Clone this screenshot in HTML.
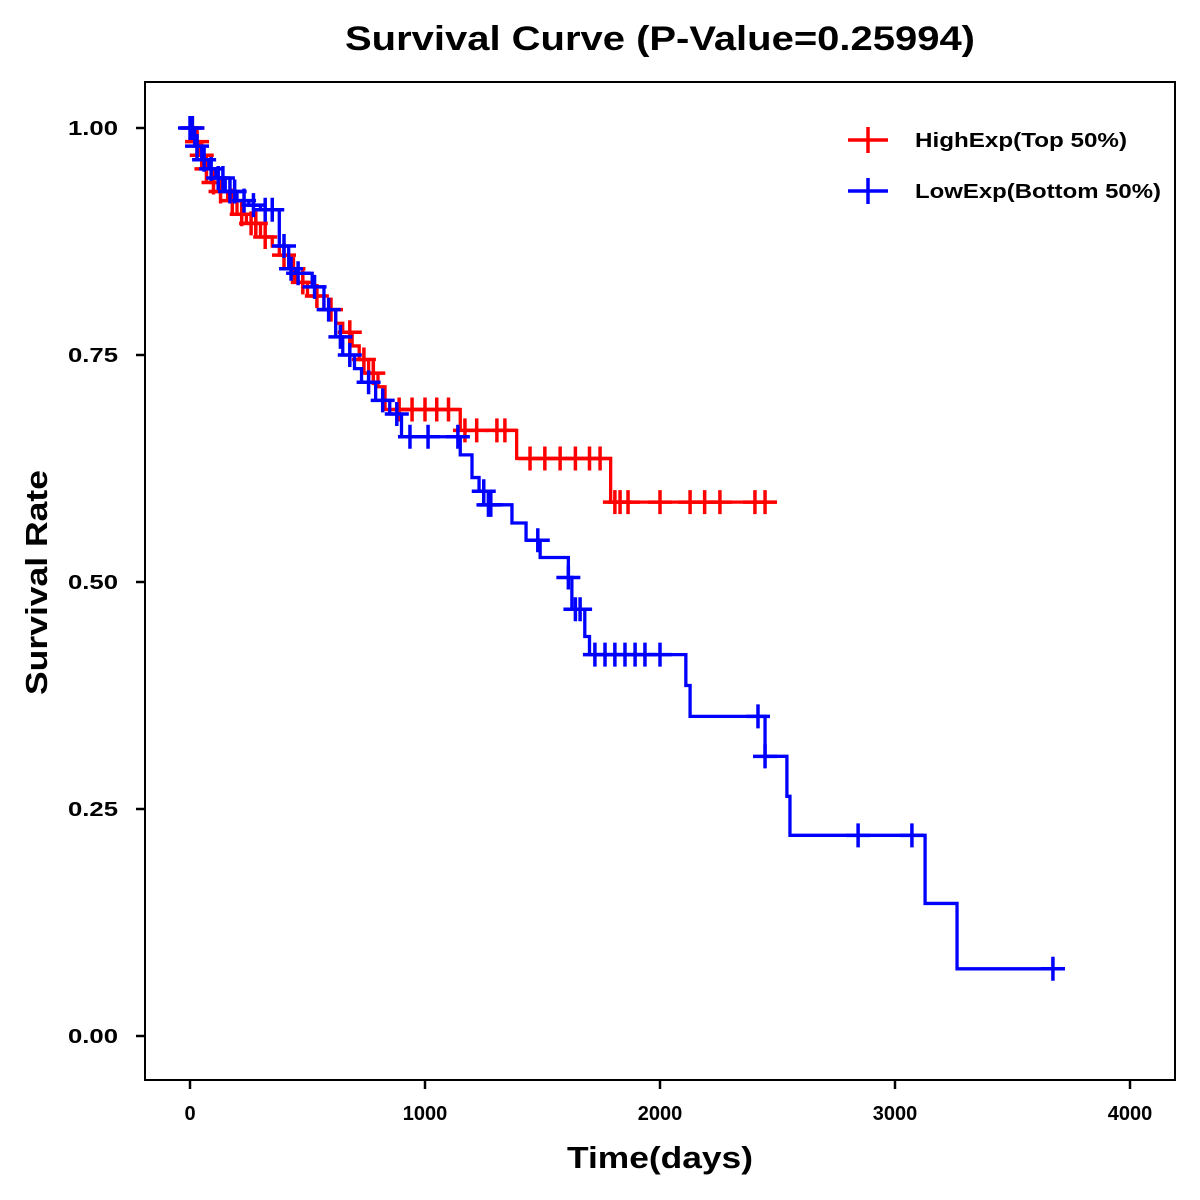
<!DOCTYPE html>
<html><head><meta charset="utf-8">
<style>
html,body{margin:0;padding:0;background:#fff;}
svg{display:block;font-family:"Liberation Sans",Arial,sans-serif;}
</style></head>
<body>
<svg id="chart" width="1200" height="1200" viewBox="0 0 1200 1200">
  <rect x="0" y="0" width="1200" height="1200" fill="#fff"/>
  <text x="345" y="50" font-size="34" font-weight="bold" textLength="630" lengthAdjust="spacingAndGlyphs">Survival Curve (P-Value=0.25994)</text>
  <rect x="145" y="82" width="1030" height="998" fill="none" stroke="#000" stroke-width="2"/>
  <g id="xticks"></g>
  <g id="yticks"></g>
  <text x="567" y="1168" font-size="31" font-weight="bold" textLength="186" lengthAdjust="spacingAndGlyphs">Time(days)</text>
  <text transform="translate(47,695) rotate(-90)" font-size="31" font-weight="bold" textLength="225" lengthAdjust="spacingAndGlyphs">Survival Rate</text>
  <g id="series"></g>
  <g>
    <g>
      <line x1="848" y1="140" x2="888" y2="140" stroke="#f00" stroke-width="3.5"/>
      <line x1="868" y1="127" x2="868" y2="153" stroke="#f00" stroke-width="3.5"/>
      <text x="915" y="147" font-size="20" font-weight="bold" textLength="212" lengthAdjust="spacingAndGlyphs">HighExp(Top 50%)</text>
    </g>
    <g>
      <line x1="848" y1="191" x2="888" y2="191" stroke="#00f" stroke-width="3.5"/>
      <line x1="868" y1="178" x2="868" y2="204" stroke="#00f" stroke-width="3.5"/>
      <text x="915" y="198" font-size="20" font-weight="bold" textLength="246" lengthAdjust="spacingAndGlyphs">LowExp(Bottom 50%)</text>
    </g>
  </g>
</svg>
<script>
const xTicks = [0, 1000, 2000, 3000, 4000];
const yTicks = [0, 0.25, 0.5, 0.75, 1.0];
const yTickLabels = ["0.00", "0.25", "0.50", "0.75", "1.00"];

const highTimes = [0, 20, 40, 60, 90, 120, 160, 200, 240, 300, 350, 380, 420, 450, 500, 570, 620, 650, 690, 720, 760, 800, 830, 1150, 1390, 1790, 2490];
const highSurv  = [1.0, 0.985, 0.97, 0.955, 0.94, 0.93, 0.92, 0.905, 0.895, 0.88, 0.87, 0.86, 0.845, 0.83, 0.815, 0.80, 0.785, 0.775, 0.76, 0.745, 0.73, 0.715, 0.69, 0.667, 0.636, 0.588, 0.588];
const highCensor = [10, 30, 50, 70, 100, 130, 180, 220, 260, 280, 320, 400, 440, 480, 540, 600, 680, 740, 780, 890, 945, 1000, 1050, 1100, 1170, 1220, 1306, 1340, 1447, 1510, 1575, 1640, 1700, 1745, 1808, 1830, 1864, 2000, 2128, 2190, 2255, 2404, 2447];

const lowTimes = [0, 20, 50, 80, 110, 150, 200, 250, 300, 380, 420, 450, 520, 570, 620, 650, 700, 730, 790, 850, 900, 1150, 1200, 1230, 1270, 1370, 1430, 1490, 1610, 1625, 1680, 1700, 2110, 2128, 2447, 2540, 2553, 3128, 3264, 3723];
const lowSurv  = [1.0, 0.98, 0.965, 0.955, 0.945, 0.93, 0.92, 0.915, 0.91, 0.87, 0.845, 0.84, 0.825, 0.80, 0.77, 0.75, 0.735, 0.72, 0.70, 0.685, 0.66, 0.64, 0.615, 0.60, 0.585, 0.565, 0.546, 0.527, 0.505, 0.47, 0.44, 0.42, 0.386, 0.352, 0.308, 0.264, 0.221, 0.146, 0.074, 0.074];
const lowCensor = [0, 10, 30, 60, 90, 120, 140, 170, 190, 230, 270, 320, 350, 400, 430, 460, 530, 590, 640, 680, 760, 820, 880, 936, 1013, 1140, 1250, 1270, 1280, 1480, 1610, 1640, 1660, 1723, 1766, 1808, 1851, 1894, 1936, 2000, 2417, 2447, 2843, 3072, 3672];

const NS = "http://www.w3.org/2000/svg";
const xScale = t => 190 + t * 0.235;
const yScale = s => 1036 - s * 908;

function mk(tag, attrs, parent) {
  const e = document.createElementNS(NS, tag);
  for (const k in attrs) e.setAttribute(k, attrs[k]);
  parent.appendChild(e);
  return e;
}

const xg = document.getElementById('xticks');
xTicks.forEach(t => {
  const l = mk('line', {x1: xScale(t), x2: xScale(t), y1: 1080, y2: 1089, stroke: '#000', 'stroke-width': 2.5}, xg);
  
  
  const tx = mk('text', {x: xScale(t), y: 1120, 'text-anchor': 'middle', 'font-size': 20, 'font-weight': 'bold'}, xg);
  tx.textContent = t;
  
  
});
const yg = document.getElementById('yticks');
yTicks.forEach((v, i) => {
  const l = mk('line', {x1: 136, x2: 145, y1: yScale(v), y2: yScale(v), stroke: '#000', 'stroke-width': 2.5}, yg);
  
  
  const tx = mk('text', {x: 68, y: yScale(v) + 7, 'font-size': 20, 'font-weight': 'bold', textLength: 50, lengthAdjust: 'spacingAndGlyphs'}, yg);
  tx.textContent = yTickLabels[i];
  
  
});

function survAt(times, surv, t) {
  let s = surv[0];
  for (let i = 0; i < times.length; i++) { if (times[i] <= t) s = surv[i]; else break; }
  return s;
}

function drawSeries(times, surv, censor, color, name) {
  const g = mk('g', {}, document.getElementById('series'));
  
  
  let d = 'M' + xScale(times[0]) + ',' + yScale(surv[0]);
  for (let i = 1; i < times.length; i++) {
    d += ' H' + xScale(times[i]) + ' V' + yScale(surv[i]);
  }
  const p = mk('path', {d: d, fill: 'none', stroke: color, 'stroke-width': 3.3}, g);
  
  
  censor.forEach(t => {
    const cx = xScale(t), cy = yScale(survAt(times, surv, t));
    const c = mk('path', {d: `M${cx-12},${cy} H${cx+12} M${cx},${cy-12} V${cy+12}`, stroke: color, 'stroke-width': 3.5, fill: 'none'}, g);
    
    
  });
}
drawSeries(highTimes, highSurv, highCensor, '#f00', 'high-exp');
drawSeries(lowTimes, lowSurv, lowCensor, '#00f', 'low-exp');
</script>
</body></html>
